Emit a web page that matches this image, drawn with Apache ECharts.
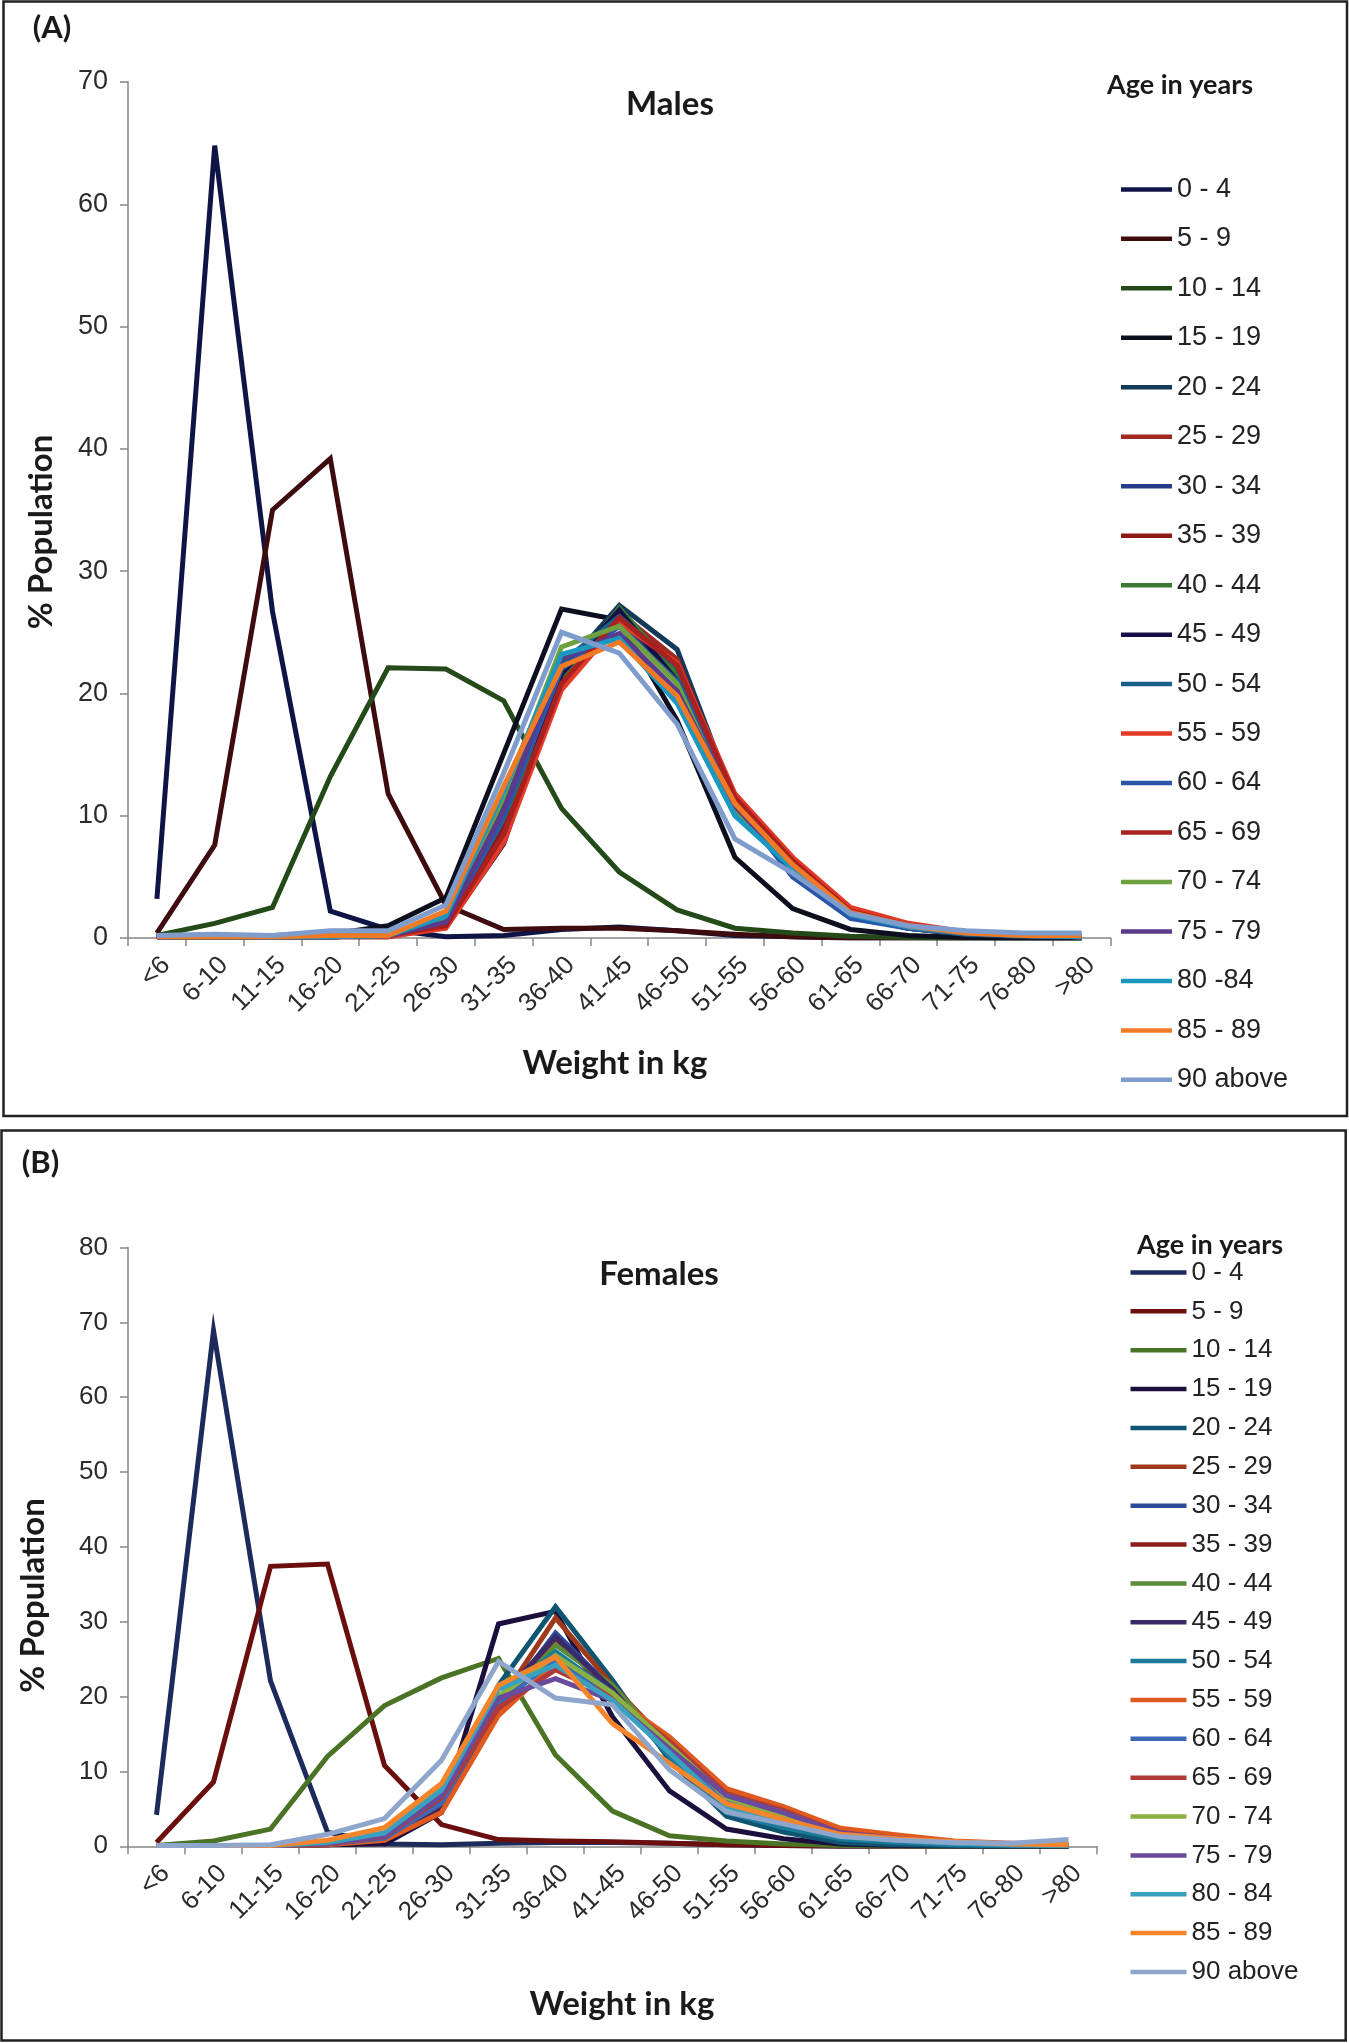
<!DOCTYPE html>
<html>
<head>
<meta charset="utf-8">
<title>Weight distribution by age group</title>
<script src="https://cdn.jsdelivr.net/npm/echarts@6.0.0/dist/echarts.min.js"></script>
<style>
html, body { margin: 0; padding: 0; background: #fff; }
#panelA { position: absolute; left: 0; top: 0; width: 1349px; height: 1123px; }
#panelB { position: absolute; left: 0; top: 1123px; width: 1349px; height: 920px; }
</style>
</head>
<body>
<div id="panelA"></div>
<div id="panelB"></div>
<script>
// x categories (weight bins)
var weightBins = ['<6', '6-10', '11-15', '16-20', '21-25', '26-30', '31-35', '36-40', '41-45', '46-50',
    '51-55', '56-60', '61-65', '66-70', '71-75', '76-80', '>80'];

var maleAgeGroups = ['0 - 4', '5 - 9', '10 - 14', '15 - 19', '20 - 24', '25 - 29', '30 - 34', '35 - 39', '40 - 44',
    '45 - 49', '50 - 54', '55 - 59', '60 - 64', '65 - 69', '70 - 74', '75 - 79', '80 -84', '85 - 89', '90 above'];
var femaleAgeGroups = ['0 - 4', '5 - 9', '10 - 14', '15 - 19', '20 - 24', '25 - 29', '30 - 34', '35 - 39', '40 - 44',
    '45 - 49', '50 - 54', '55 - 59', '60 - 64', '65 - 69', '70 - 74', '75 - 79', '80 - 84', '85 - 89', '90 above'];

// y tick labels
var maleTicks = [0, 10, 20, 30, 40, 50, 60, 70];
var femaleTicks = [0, 10, 20, 30, 40, 50, 60, 70, 80];

var maleColors = ['#0e1446', '#3e0c0e', '#234a18', '#0d0f1e', '#12385a', '#a02820', '#283a8a', '#8c1818', '#3a7a30',
    '#160e46', '#16608a', '#e23a26', '#2a55a8', '#a82020', '#6ea040', '#5a3a8a', '#1a98c0', '#f27a24', '#7e9ccc'];
var femaleColors = ['#1c2a5c', '#6a0e0e', '#4a7326', '#1c0f3e', '#0f5470', '#a0391c', '#2a4a98', '#8b1a1a', '#5a8a3a',
    '#3a2a6a', '#1a7a9a', '#e05a20', '#3a6ab8', '#b03a3a', '#8ab040', '#6a4a9a', '#3aa0c0', '#f5852a', '#8fa6cc'];

// ===== Males, % population per weight bin
var m0_4 = [3.2, 64.8, 26.7, 2.2, 0.7, 0.1, 0.2, 0.7, 0.9, 0.6, 0.2, 0.1, 0, 0, 0, 0, 0];
var m5_9 = [0.4, 7.6, 35.0, 39.2, 11.8, 2.7, 0.7, 0.8, 0.8, 0.6, 0.3, 0.1, 0, 0, 0, 0, 0];
var m10_14 = [0.2, 1.2, 2.5, 13.2, 22.1, 22.0, 19.4, 10.6, 5.4, 2.3, 0.8, 0.4, 0.15, 0.05, 0, 0, 0];
var m15_19 = [0.2, 0.2, 0.2, 0.3, 1.0, 3.3, 15.1, 26.9, 26.0, 17.8, 6.6, 2.4, 0.7, 0.2, 0.05, 0, 0];
var m20_24 = [0.1, 0.1, 0.1, 0.2, 0.3, 1.5, 11.0, 21.8, 27.2, 23.6, 11.2, 5.5, 1.9, 0.8, 0.3, 0.1, 0.1];
var m25_29 = [0.1, 0.1, 0.1, 0.1, 0.2, 1.2, 9.5, 21.3, 26.6, 22.8, 11.3, 6.2, 2.1, 0.9, 0.4, 0.2, 0.1];
var m30_34 = [0.1, 0.1, 0.1, 0.1, 0.2, 1.1, 9.0, 21.5, 25.9, 21.2, 10.8, 5.8, 2.0, 0.9, 0.4, 0.2, 0.1];
var m35_39 = [0.1, 0.1, 0.1, 0.1, 0.2, 1.0, 8.8, 21.0, 26.1, 22.0, 11.0, 6.0, 2.1, 0.9, 0.4, 0.2, 0.1];
var m40_44 = [0.1, 0.1, 0.1, 0.1, 0.2, 1.2, 9.8, 21.1, 27.0, 21.6, 10.8, 5.9, 2.0, 0.9, 0.4, 0.2, 0.1];
var m45_49 = [0.1, 0.1, 0.1, 0.1, 0.1, 0.9, 7.7, 21.6, 26.8, 21.0, 10.7, 5.6, 1.9, 0.8, 0.3, 0.2, 0.1];
var m50_54 = [0.1, 0.1, 0.1, 0.1, 0.2, 1.3, 10.4, 22.5, 26.3, 22.2, 10.5, 5.6, 1.9, 0.8, 0.3, 0.2, 0.1];
var m55_59 = [0.1, 0.1, 0.1, 0.1, 0.1, 0.8, 7.8, 20.3, 25.8, 22.5, 11.8, 6.6, 2.5, 1.2, 0.5, 0.2, 0.2];
var m60_64 = [0.1, 0.1, 0.1, 0.1, 0.2, 1.1, 9.9, 22.0, 25.5, 21.0, 11.0, 5.0, 1.6, 0.8, 0.4, 0.2, 0.1];
var m65_69 = [0.1, 0.1, 0.1, 0.1, 0.2, 1.0, 8.5, 20.8, 26.2, 22.3, 11.5, 6.3, 2.2, 1.0, 0.4, 0.2, 0.1];
var m70_74 = [0.1, 0.1, 0.1, 0.1, 0.2, 1.5, 11.5, 23.8, 25.5, 20.8, 10.3, 5.9, 2.0, 0.9, 0.4, 0.2, 0.1];
var m75_79 = [0.1, 0.1, 0.1, 0.1, 0.2, 1.3, 10.5, 22.8, 24.9, 20.2, 10.8, 5.8, 2.0, 0.9, 0.4, 0.2, 0.1];
var m80_84 = [0.1, 0.1, 0.1, 0.1, 0.2, 1.8, 12.0, 23.2, 24.5, 19.2, 10.0, 5.7, 1.9, 0.9, 0.4, 0.2, 0.1];
var m85_89 = [0.1, 0.1, 0.1, 0.2, 0.2, 2.2, 12.4, 22.2, 24.2, 19.8, 11.0, 6.0, 2.1, 1.0, 0.4, 0.2, 0.2];
var m90up = [0.2, 0.3, 0.2, 0.6, 0.6, 2.7, 13.5, 25.0, 23.3, 17.5, 8.1, 5.3, 2.0, 1.0, 0.6, 0.4, 0.4];

// ===== Females, % population per weight bin
var f0_4 = [4.2, 68.9, 22.1, 1.9, 0.3, 0.2, 0.4, 0.5, 0.5, 0.4, 0.2, 0.1, 0, 0, 0, 0, 0];
var f5_9 = [0.5, 8.6, 37.4, 37.7, 10.8, 2.9, 0.9, 0.7, 0.6, 0.4, 0.2, 0.1, 0, 0, 0, 0, 0];
var f10_14 = [0.1, 0.7, 2.3, 12.0, 18.8, 22.5, 25.1, 12.2, 4.7, 1.4, 0.7, 0.3, 0.1, 0.05, 0, 0, 0];
var f15_19 = [0.1, 0.1, 0.1, 0.2, 0.3, 4.5, 29.7, 31.4, 17.3, 7.4, 2.3, 1.0, 0.3, 0.1, 0.05, 0, 0];
var f20_24 = [0.1, 0.1, 0.1, 0.3, 1.2, 5.5, 21.5, 32.0, 22.2, 11.5, 4.0, 1.9, 0.5, 0.2, 0.1, 0.05, 0.05];
var f25_29 = [0.1, 0.1, 0.1, 0.3, 1.0, 5.0, 19.0, 30.5, 21.5, 13.5, 7.2, 4.2, 1.6, 0.8, 0.4, 0.2, 0.1];
var f30_34 = [0.1, 0.1, 0.1, 0.3, 1.0, 5.2, 18.5, 28.5, 21.0, 12.0, 5.8, 3.5, 1.4, 0.7, 0.3, 0.2, 0.1];
var f35_39 = [0.1, 0.1, 0.1, 0.2, 0.9, 4.9, 18.2, 27.8, 20.5, 13.0, 6.2, 3.6, 1.4, 0.7, 0.3, 0.2, 0.1];
var f40_44 = [0.1, 0.1, 0.1, 0.3, 1.1, 6.0, 18.5, 26.9, 21.5, 13.0, 6.0, 3.4, 1.3, 0.7, 0.3, 0.2, 0.1];
var f45_49 = [0.1, 0.1, 0.1, 0.2, 0.8, 4.8, 19.5, 28.0, 21.0, 12.0, 5.5, 3.2, 1.2, 0.6, 0.3, 0.2, 0.1];
var f50_54 = [0.1, 0.1, 0.1, 0.3, 1.2, 6.0, 20.0, 26.0, 20.5, 12.0, 4.5, 2.5, 1.0, 0.5, 0.2, 0.1, 0.1];
var f55_59 = [0.1, 0.1, 0.1, 0.2, 0.8, 4.5, 17.5, 24.5, 20.0, 14.6, 7.7, 5.3, 2.4, 1.5, 0.7, 0.4, 0.2];
var f60_64 = [0.1, 0.1, 0.1, 0.3, 1.1, 5.8, 19.0, 25.0, 20.0, 12.5, 6.0, 3.5, 1.5, 0.8, 0.4, 0.2, 0.1];
var f65_69 = [0.1, 0.1, 0.1, 0.3, 1.3, 6.5, 18.5, 23.6, 20.0, 14.0, 7.0, 4.8, 1.8, 1.0, 0.5, 0.3, 0.1];
var f70_74 = [0.1, 0.1, 0.1, 0.5, 1.6, 8.0, 20.0, 25.5, 20.5, 13.5, 6.5, 4.0, 1.6, 0.9, 0.5, 0.3, 0.1];
var f75_79 = [0.1, 0.1, 0.1, 0.4, 1.4, 6.8, 19.8, 22.4, 19.5, 13.0, 6.8, 4.5, 1.8, 1.0, 0.5, 0.3, 0.1];
var f80_84 = [0.1, 0.1, 0.1, 0.5, 1.8, 7.5, 21.0, 24.2, 19.5, 12.5, 5.3, 3.2, 1.4, 0.8, 0.4, 0.2, 0.1];
var f85_89 = [0.1, 0.1, 0.1, 0.8, 2.5, 8.4, 21.5, 25.3, 16.4, 11.1, 5.7, 3.6, 1.6, 1.0, 0.6, 0.3, 0.2];
var f90up = [0.1, 0.1, 0.2, 1.6, 3.7, 11.5, 24.7, 19.8, 18.9, 10.2, 4.6, 3.0, 1.3, 0.8, 0.5, 0.4, 0.9];

var maleValues = [m0_4, m5_9, m10_14, m15_19, m20_24, m25_29, m30_34, m35_39, m40_44, m45_49,
    m50_54, m55_59, m60_64, m65_69, m70_74, m75_79, m80_84, m85_89, m90up];
var femaleValues = [f0_4, f5_9, f10_14, f15_19, f20_24, f25_29, f30_34, f35_39, f40_44, f45_49,
    f50_54, f55_59, f60_64, f65_69, f70_74, f75_79, f80_84, f85_89, f90up];

var BOLD = 'Lato, "Open Sans", sans-serif';
var PLAIN = '"Liberation Sans", Arial, sans-serif';
var AXIS_GREY = '#868686';

function textEl(text, x, y, size, rotation) {
    return {
        type: 'text',
        x: x,
        y: y,
        rotation: rotation || 0,
        silent: true,
        style: {
            text: text,
            font: 'bold ' + size + 'px ' + BOLD,
            fill: '#1a1a1a',
            align: 'center',
            verticalAlign: 'middle',
            textAlign: 'center',
            textVerticalAlign: 'middle'
        }
    };
}

function buildPanel(domId, p) {
    var chart = echarts.init(document.getElementById(domId), null, { renderer: 'canvas' });
    var series = [];
    for (var i = 0; i < p.ages.length; i++) {
        series.push({
            name: p.ages[i],
            type: 'line',
            data: p.values[i],
            symbol: 'none',
            showSymbol: false,
            silent: true,
            lineStyle: { width: 5, color: p.colors[i], join: 'miter' },
            itemStyle: { color: p.colors[i] }
        });
    }
    var ticks = p.ticks;
    var option = {
        backgroundColor: '#fff',
        animation: false,
        grid: p.grid,
        legend: {
            orient: 'vertical',
            left: p.legend.left,
            top: p.legend.top,
            padding: 0,
            icon: 'rect',
            itemWidth: p.legend.itemWidth,
            itemHeight: 4.5,
            itemGap: p.legend.itemGap,
            selectedMode: false,
            data: p.ages,
            textStyle: { fontFamily: PLAIN, fontSize: p.legend.fontSize, lineHeight: 30, color: '#222' }
        },
        xAxis: {
            type: 'category',
            data: weightBins,
            boundaryGap: true,
            axisLine: { lineStyle: { color: AXIS_GREY, width: 1.5 } },
            axisTick: { show: true, length: 8, interval: 0, lineStyle: { color: AXIS_GREY, width: 1.5 } },
            axisLabel: {
                interval: 0,
                rotate: 45,
                margin: 14,
                verticalAlign: 'top',
                fontFamily: PLAIN,
                fontSize: 26,
                color: '#2b2b2b'
            },
            splitLine: { show: false }
        },
        yAxis: {
            type: 'value',
            min: ticks[0],
            max: ticks[ticks.length - 1],
            interval: ticks[1] - ticks[0],
            axisLine: { show: true, lineStyle: { color: AXIS_GREY, width: 1.5 } },
            axisTick: { show: true, length: 8, lineStyle: { color: AXIS_GREY, width: 1.5 } },
            axisLabel: { margin: 20, fontFamily: PLAIN, fontSize: p.yFont, color: '#2b2b2b' },
            splitLine: { show: false }
        },
        graphic: [
            {
                type: 'rect',
                silent: true,
                shape: p.frame,
                style: { fill: 'none', stroke: '#222', lineWidth: 2.5 }
            },
            textEl(p.tag, p.tagPos[0], p.tagPos[1], 31),
            textEl(p.title, p.titlePos[0], p.titlePos[1], 33),
            textEl('Age in years', p.agePos[0], p.agePos[1], 27),
            textEl('% Population', p.yNamePos[0], p.yNamePos[1], 33, Math.PI / 2),
            textEl('Weight in kg', p.xNamePos[0], p.xNamePos[1], 33)
        ],
        series: series
    };
    chart.setOption(option);
    return chart;
}

buildPanel('panelA', {
    ages: maleAgeGroups,
    colors: maleColors,
    values: maleValues,
    ticks: maleTicks,
    yFont: 27,
    grid: { left: 128, top: 82, width: 982.6, height: 856 },
    legend: { left: 1121, top: 174.4, itemWidth: 51, itemGap: 19.47, fontSize: 27 },
    frame: { x: 3.5, y: 1.5, width: 1343.5, height: 1114.5 },
    tag: '(A)', tagPos: [52, 28],
    title: 'Males', titlePos: [670, 104],
    agePos: [1180, 85],
    yNamePos: [41, 532],
    xNamePos: [615, 1063]
});

buildPanel('panelB', {
    ages: femaleAgeGroups,
    colors: femaleColors,
    values: femaleValues,
    ticks: femaleTicks,
    yFont: 26,
    grid: { left: 128, top: 124.5, width: 969, height: 598.8 },
    legend: { left: 1130.5, top: 134.5, itemWidth: 56, itemGap: 8.86, fontSize: 26 },
    frame: { x: 1.5, y: 7.5, width: 1344.2, height: 910 },
    tag: '(B)', tagPos: [40.5, 40],
    title: 'Females', titlePos: [659, 151],
    agePos: [1210, 122.5],
    yNamePos: [33, 472.4],
    xNamePos: [622, 881]
});
</script>
</body>
</html>
